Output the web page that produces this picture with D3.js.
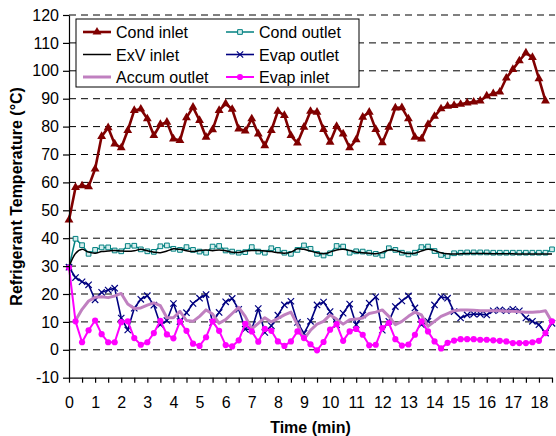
<!DOCTYPE html>
<html>
<head>
<meta charset="utf-8">
<script src="https://cdn.jsdelivr.net/npm/d3@7"></script>
<style>
    body { margin: 0; background: #fff; }
    svg { display: block; font-family: "Liberation Sans", Arial, sans-serif; }
</style>
</head>
<body>
<svg id="chart" width="556" height="436"></svg>
<script>
'use strict';

// samples every 15 s
const sampleStep = 0.25;

const condInlet = [46.5, 58.2, 58.8, 58.5, 64.8, 76.5, 79.6, 73.8, 72.4, 78.6,
    85.8, 86.3, 82.8, 76.8, 80.8, 81.6, 75.6, 75.0, 83.2, 87.0,
    82.2, 76.2, 78.9, 85.8, 88.2, 86.2, 79.2, 78.4, 82.8, 77.4,
    73.2, 78.6, 85.5, 84.0, 76.8, 74.1, 79.8, 85.5, 85.2, 79.0,
    74.4, 80.1, 77.4, 72.4, 75.3, 83.4, 85.2, 79.0, 74.2, 79.8,
    86.7, 86.8, 82.8, 76.2, 75.6, 80.8, 83.7, 86.4, 87.3, 87.6,
    88.0, 88.5, 88.8, 89.2, 91.0, 91.8, 92.4, 97.4, 100.5, 103.6,
    106.4, 104.8, 97.2, 89.2];

const condOutlet = [29.6, 39.8, 37.5, 34.4, 35.8, 36.7, 36.7, 35.6, 35.3, 37.2,
    37.3, 36.0, 35.3, 35.1, 37.1, 37.4, 36.2, 35.8, 36.8, 35.8,
    35.2, 34.8, 37.0, 37.2, 35.6, 35.2, 34.8, 35.0, 36.8, 35.2,
    34.8, 36.4, 35.8, 34.8, 34.4, 35.8, 37.4, 36.2, 34.4, 33.8,
    34.6, 37.2, 37.0, 34.8, 35.3, 35.2, 34.8, 34.4, 33.8, 36.4,
    35.8, 34.8, 34.2, 34.8, 36.8, 37.0, 35.4, 34.0, 33.6, 34.6,
    34.8, 34.9, 34.9, 34.9, 34.9, 34.8, 34.8, 34.8, 34.8, 34.8,
    34.8, 34.8, 34.8, 34.8, 36.0];

const exvInlet = [29.6, 34.5, 36.0, 35.0, 34.6, 35.2, 35.4, 35.6, 35.4, 35.3,
    35.5, 36.0, 35.5, 35.0, 34.8, 35.4, 36.2, 36.0, 35.5, 35.2,
    35.6, 35.8, 35.5, 35.8, 35.5, 35.0, 34.9, 35.4, 35.6, 35.6,
    35.4, 35.2, 34.8, 34.6, 35.0, 36.2, 36.0, 35.4, 34.8, 34.4,
    35.0, 35.8, 36.0, 35.6, 35.0, 34.8, 34.6, 34.4, 35.0, 35.8,
    35.6, 34.9, 34.5, 34.6, 35.4, 36.0, 35.6, 34.8, 34.4, 34.3,
    34.4, 34.5, 34.5, 34.5, 34.5, 34.4, 34.4, 34.4, 34.4, 34.3,
    34.3, 34.3, 34.3, 34.3, 34.3];

const evapOutlet = [29.6, 25.9, 24.4, 23.3, 17.9, 20.6, 21.4, 22.1, 11.4, 7.1,
    14.9, 18.1, 19.4, 16.0, 9.0, 10.5, 16.6, 10.1, 13.3, 16.6,
    18.5, 19.8, 9.8, 13.4, 17.2, 18.4, 14.5, 7.4, 7.3, 14.8,
    6.2, 8.6, 12.4, 16.1, 17.4, 9.8, 5.9, 10.2, 16.1, 17.1,
    13.7, 9.0, 13.1, 16.4, 9.0, 12.5, 16.7, 19.0, 7.0, 10.2,
    15.5, 17.5, 19.3, 15.0, 9.0, 10.2, 16.1, 19.0, 18.5, 13.7,
    11.4, 12.5, 12.8, 12.8, 12.5, 14.0, 14.3, 14.0, 14.5, 14.0,
    11.4, 10.2, 9.0, 6.0, 9.5];

const accumOutlet = [null, 10.5, 14.5, 17.5, 18.8, 19.0, 18.7, 19.3, 20.2, 16.4,
    14.8, 15.0, 16.0, 16.8, 15.8, 11.5, 11.5, 13.8, 10.5, 10.2,
    12.0, 14.3, 12.8, 9.5, 10.8, 13.0, 15.2, 12.0, 7.5, 9.5,
    11.5, 10.0, 11.2, 12.5, 13.5, 9.0, 3.8, 7.0, 9.2, 10.2,
    12.5, 11.0, 9.2, 10.8, 11.0, 11.4, 13.0, 13.5, 14.3, 12.0,
    9.0, 10.2, 12.0, 13.5, 12.5, 8.4, 10.2, 12.0, 13.0, 14.0,
    14.3, 14.3, 14.2, 14.0, 14.0, 14.0, 14.0, 13.8, 13.8, 13.6,
    13.5, 13.5, 13.6, 14.0, 10.0];

const evapInlet = [29.5, 10.2, 2.7, 7.0, 10.5, 5.6, 2.7, 2.7, 9.9, 10.2,
    4.2, 1.8, 2.7, 6.0, 10.4, 5.5, 4.1, 10.1, 6.8, 2.2,
    1.4, 4.5, 10.2, 6.8, 1.7, 1.2, 3.4, 9.3, 6.6, 2.9,
    7.5, 6.8, 3.0, 1.4, 3.0, 6.6, 4.2, 2.0, -0.2, 2.8,
    7.2, 9.2, 3.2, 6.6, 7.5, 5.4, 1.6, 1.8, 7.8, 9.6,
    3.8, 1.5, 1.9, 5.4, 10.2, 6.6, 3.0, 0.5, 2.5, 3.3,
    3.8, 3.8, 3.8, 3.6, 3.6, 3.4, 3.2, 3.0, 2.4, 2.4,
    2.4, 2.7, 3.2, 6.0, 10.2];

const yTicks = [-10, 0, 10, 20, 30, 40, 50, 60, 70, 80, 90, 100, 110, 120];
const xTicks = d3.range(0, 18.51, 0.5);

const series = [
    { name: 'Cond inlet', values: condInlet, color: '#800000', width: 2.6, marker: 'triangle' },
    { name: 'Cond outlet', values: condOutlet, color: '#008080', width: 1.5, marker: 'square' },
    { name: 'ExV inlet', values: exvInlet, color: '#000000', width: 1.5, marker: null, smooth: true },
    { name: 'Evap outlet', values: evapOutlet, color: '#000080', width: 1.6, marker: 'x' },
    { name: 'Accum outlet', values: accumOutlet, color: '#C080C0', width: 3, marker: null },
    { name: 'Evap inlet', values: evapInlet, color: '#FF00FF', width: 2, marker: 'circle' }
];

const svg = d3.select('#chart');
const plotLeft = 69, plotRight = 552, plotTop = 15, plotBottom = 377.7;

const x = d3.scaleLinear().domain([0, 18.5]).range([plotLeft, plotRight]);
const y = d3.scaleLinear().domain([-10, 120]).range([plotBottom, plotTop]);

// dashed grid
svg.append('g')
    .selectAll('line')
    .data(yTicks.filter((d) => d >= 0))
    .enter().append('line')
    .attr('x1', plotLeft)
    .attr('x2', 555)
    .attr('y1', (d) => y(d))
    .attr('y2', (d) => y(d))
    .attr('stroke', '#000')
    .attr('stroke-width', 1)
    .attr('stroke-dasharray', '7,5');

function markerPath(kind, size) {
    const types = {
        triangle: d3.symbolTriangle,
        square: d3.symbolSquare,
        circle: d3.symbolCircle,
        x: d3.symbolTimes || d3.symbolX
    };
    return d3.symbol().type(types[kind]).size(size)();
}

function styleMarker(sel, s) {
    if (s.marker === 'triangle') {
        sel.attr('d', markerPath('triangle', 34)).attr('fill', s.color);
    } else if (s.marker === 'square') {
        sel.attr('d', markerPath('square', 22)).attr('fill', '#d6eeee')
            .attr('stroke', s.color).attr('stroke-width', 1);
    } else if (s.marker === 'circle') {
        sel.attr('d', markerPath('circle', 30)).attr('fill', s.color);
    } else if (s.marker === 'x') {
        sel.attr('d', markerPath('x', 28)).attr('fill', 'none')
            .attr('stroke', s.color).attr('stroke-width', 1.2);
    }
}

const plot = svg.append('g');

series.forEach((s) => {
    const pts = s.values.map((v, i) => ({ t: i * sampleStep, v: v }));
    const line = d3.line()
        .defined((d) => d.v !== null)
        .x((d) => x(d.t))
        .y((d) => y(d.v))
        .curve(s.smooth ? d3.curveCatmullRom : d3.curveLinear);

    const g = plot.append('g');
    g.append('path')
        .datum(pts)
        .attr('d', line)
        .attr('fill', 'none')
        .attr('stroke', s.color)
        .attr('stroke-width', s.width)
        .attr('stroke-linejoin', 'round');

    if (s.marker) {
        g.selectAll('path.mk')
            .data(pts.filter((d) => d.v !== null))
            .enter().append('path')
            .attr('class', 'mk')
            .attr('transform', (d) => `translate(${x(d.t)},${y(d.v)})`)
            .call(styleMarker, s);
    }
});

// axes
const yAxis = svg.append('g')
    .attr('transform', `translate(${plotLeft},0)`)
    .call(d3.axisLeft(y).tickValues(yTicks).tickSize(6).tickSizeOuter(0).tickPadding(4)
        .tickFormat((d) => String(d)));

const xAxis = svg.append('g')
    .attr('transform', `translate(0,${plotBottom})`)
    .call(d3.axisBottom(x).tickValues(xTicks).tickSize(5).tickSizeOuter(0).tickPadding(14)
        .tickFormat((d) => Number.isInteger(d) ? String(d) : ''));

[yAxis, xAxis].forEach((a) => {
    a.selectAll('path, line').attr('stroke', '#000').attr('stroke-width', 1.2);
    a.selectAll('text').attr('font-size', 16).attr('fill', '#000')
        .style('font-family', '"Liberation Sans", Arial, sans-serif');
});

svg.append('text')
    .attr('x', (plotLeft + plotRight) / 2)
    .attr('y', 433)
    .attr('text-anchor', 'middle')
    .attr('font-size', 16)
    .attr('font-weight', 'bold')
    .text('Time (min)');

svg.append('text')
    .attr('transform', `translate(22,${(plotTop + plotBottom) / 2}) rotate(-90)`)
    .attr('text-anchor', 'middle')
    .attr('font-size', 16)
    .attr('font-weight', 'bold')
    .text('Refrigerant Temperature (°C)');

// legend
const legend = svg.append('g');
legend.append('rect')
    .attr('x', 76)
    .attr('y', 19)
    .attr('width', 283)
    .attr('height', 68)
    .attr('fill', '#fff')
    .attr('stroke', '#000')
    .attr('stroke-width', 1);

const colX = [83, 226];
const rowY = [32, 54.5, 77];
series.forEach((s, k) => {
    const lx = colX[k % 2];
    const ly = rowY[Math.floor(k / 2)];
    const item = legend.append('g');
    item.append('line')
        .attr('x1', lx)
        .attr('x2', lx + 28)
        .attr('y1', ly)
        .attr('y2', ly)
        .attr('stroke', s.color)
        .attr('stroke-width', s.width);
    if (s.marker) {
        item.append('path')
            .attr('transform', `translate(${lx + 14},${ly})`)
            .call(styleMarker, s);
    }
    item.append('text')
        .attr('x', lx + 33)
        .attr('y', ly + 6)
        .attr('font-size', 16)
        .text(s.name);
});
</script>
</body>
</html>
